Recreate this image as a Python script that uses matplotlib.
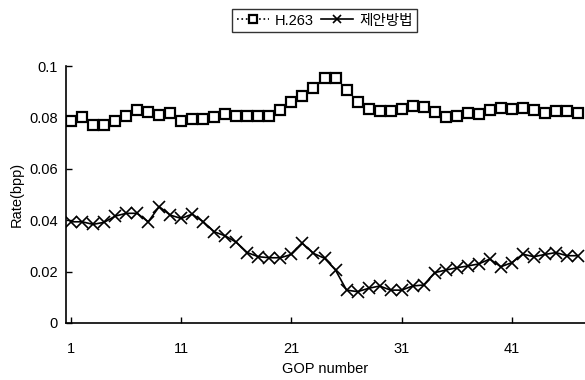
import numpy as np
import matplotlib
matplotlib.use("Agg")
import matplotlib.pyplot as plt

plt.rcParams['font.family'] = ['Liberation Sans', 'Noto Sans CJK KR']

gop = np.arange(1, 48)

h263 = [0.0786, 0.0803, 0.0770, 0.0770, 0.0786, 0.0805, 0.0829, 0.0822, 0.0810, 0.0816,
        0.0787, 0.0796, 0.0793, 0.0803, 0.0812, 0.0805, 0.0805, 0.0805, 0.0805, 0.0829,
        0.0861, 0.0883, 0.0913, 0.0952, 0.0952, 0.0907, 0.0859, 0.0835, 0.0825, 0.0825,
        0.0833, 0.0844, 0.0839, 0.0822, 0.0803, 0.0807, 0.0816, 0.0812, 0.0829, 0.0838,
        0.0832, 0.0838, 0.0829, 0.0818, 0.0826, 0.0826, 0.0818]

proposed = [0.0394, 0.0394, 0.0384, 0.0392, 0.0416, 0.0427, 0.0427, 0.0394, 0.0453, 0.0420,
            0.0407, 0.0424, 0.0394, 0.0355, 0.0339, 0.0314, 0.0274, 0.0258, 0.0254, 0.0254,
            0.0267, 0.0310, 0.0271, 0.0252, 0.0206, 0.0128, 0.0122, 0.0135, 0.0144, 0.0128,
            0.0128, 0.0144, 0.0148, 0.0196, 0.0206, 0.0215, 0.0222, 0.0230, 0.0249, 0.0219,
            0.0235, 0.0268, 0.0258, 0.0267, 0.0274, 0.0262, 0.0262]

xticks = [1, 11, 21, 31, 41]
yticks = [0, 0.02, 0.04, 0.06, 0.08, 0.1]
ylabels = ["0", "0.02", "0.04", "0.06", "0.08", "0.1"]

fig = plt.figure(figsize=(5.85, 3.8), dpi=100)
ax = fig.add_axes([0.113, 0.15, 0.887, 0.676])

ax.plot(gop, h263, color="black", linestyle=":", linewidth=1.2,
        marker="s", markersize=7, markerfacecolor="white",
        markeredgecolor="black", markeredgewidth=1.6, label="H.263")
ax.plot(gop, proposed, color="black", linestyle="-", linewidth=1.2,
        marker="x", markersize=8, markeredgewidth=1.2, label="제안방법")

ax.set_xlim(0.55, 47.64)
ax.set_ylim(0, 0.1)
ax.set_xticks(xticks)
ax.set_yticks(yticks)
ax.set_yticklabels(ylabels)
ax.tick_params(direction="in", length=4, labelsize=10.5, width=1)
ax.tick_params(axis="x", pad=14)
ax.tick_params(axis="y", pad=6)
for s in ["top", "right"]:
    ax.spines[s].set_visible(False)
for s in ["left", "bottom"]:
    ax.spines[s].set_linewidth(1.2)

ax.set_xlabel("GOP number", fontsize=10.5, labelpad=4)
ax.set_ylabel("Rate(bpp)", fontsize=10.5, labelpad=4)

leg = fig.legend(loc="upper center", bbox_to_anchor=(0.555, 0.995), ncol=2,
                 fontsize=10.5, frameon=True, fancybox=False, edgecolor="black",
                 handlelength=2.2, columnspacing=0.5, handletextpad=0.4,
                 borderpad=0.3, markerscale=0.8)
leg.get_frame().set_linewidth(1.0)

fig.savefig("out.png", dpi=100)
